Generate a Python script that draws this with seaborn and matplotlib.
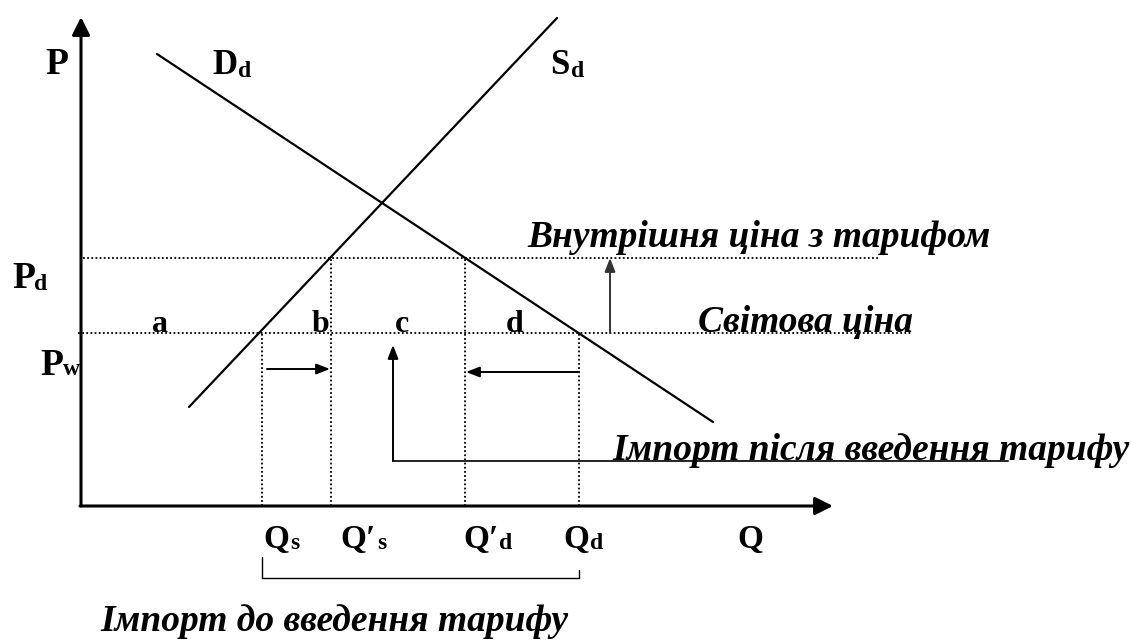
import matplotlib
matplotlib.use("Agg")
import matplotlib.pyplot as plt
import seaborn as sns
import pandas as pd

# ---- data (economic units) ----
P_w = 17.3          # world price
P_d = 24.8          # domestic price with tariff
Q_s = 18.1          # domestic supply at world price
Q_s_t = 25.0        # domestic supply with tariff
Q_d_t = 38.4        # domestic demand with tariff
Q_d = 49.8          # domestic demand at world price
demand_q = [7.6, 63.2]
demand_p = [45.2, 8.4]
supply_q = [10.8, 47.6]
supply_p = [9.9, 48.8]
axis_q_max = 75.2
axis_p_max = 48.9
pd_line_end = 79.7
pw_line_end = 83.0
area_labels = ["a", "b", "c", "d"]
area_label_q = [7.9, 23.9, 32.1, 43.4]
q_main = ["Q", "Q\u2032", "Q\u2032", "Q", "Q"]
q_sub = ["s", "s", "d", "d", ""]

sns.set_theme(style="white")
plt.rcParams["font.family"] = ["Liberation Serif", "DejaVu Serif"]
plt.rcParams["text.color"] = "black"

fig = plt.figure(figsize=(11.31, 6.40), dpi=100)
ax = fig.add_axes([0, 0, 1, 1])
ax.set_xlim(-8.1, 105.0)
ax.set_ylim(-13.4, 50.6)
ax.axis("off")

curves = pd.DataFrame({
    "Q": demand_q + supply_q,
    "P": demand_p + supply_p,
    "curve": ["D", "D", "S", "S"],
})
sns.lineplot(data=curves, x="Q", y="P", hue="curve", units="curve",
             estimator=None, sort=False, palette=["black", "black"],
             linewidth=1.6, legend=False, ax=ax)

# axes with arrows
axis_style = dict(arrowstyle="-|>,head_length=0.9,head_width=0.45",
                  lw=2.2, color="black", mutation_scale=12,
                  shrinkA=0, shrinkB=0)
ax.annotate("", xy=(0, axis_p_max), xytext=(0, 0), arrowprops=axis_style)
ax.annotate("", xy=(axis_q_max, 0), xytext=(-0.1, 0), arrowprops=axis_style)

# dotted guide lines
dot = dict(color="black", lw=1.3, linestyle=(0, (1, 1.3)))
ax.plot([0.2, pd_line_end], [P_d, P_d], **dot)
ax.plot([-0.3, pw_line_end], [P_w, P_w], **dot)
for q, p in [(Q_s, P_w), (Q_s_t, P_d), (Q_d_t, P_d), (Q_d, P_w)]:
    ax.plot([q, q], [0, p], **dot)

# small arrows
arr = dict(arrowstyle="-|>,head_length=0.9,head_width=0.35", lw=1.4,
           color="black", mutation_scale=9, shrinkA=0, shrinkB=0)
ax.annotate("", xy=(Q_s_t - 0.1, 13.7), xytext=(Q_s + 0.5, 13.7), arrowprops=arr)
ax.annotate("", xy=(Q_d_t + 0.1, 13.4), xytext=(Q_d, 13.4), arrowprops=arr)
ax.annotate("", xy=(52.9, P_d), xytext=(52.9, P_w),
            arrowprops=dict(arr, color="#333333"))
ax.annotate("", xy=(31.2, 16.1), xytext=(31.2, 4.5), arrowprops=arr)
ax.plot([31.2, 92.7], [4.5, 4.5], color="#222222", lw=1.4)

# bracket for imports before tariff
ax.plot([Q_s, Q_s, Q_d, Q_d], [-5.1, -7.2, -7.2, -6.4], color="black", lw=1.0)

# labels
big = dict(fontweight="bold", fontsize=27, color="black")
mid = dict(fontweight="bold", fontsize=25, color="black")
qf = dict(fontweight="bold", fontsize=24, color="black")
sub = dict(fontweight="bold", fontsize=17, color="black")
ax.text(-3.6, 43.2, "P", ha="left", va="baseline", **big)
ax.text(13.1, 43.2, "D", ha="left", va="baseline", **mid)
ax.text(15.7, 42.9, "d", ha="left", va="baseline", **sub)
ax.text(46.9, 43.2, "S", ha="left", va="baseline", **mid)
ax.text(49.0, 42.9, "d", ha="left", va="baseline", **sub)
ax.text(-6.9, 21.8, "P", ha="left", va="baseline", **big)
ax.text(-4.7, 21.6, "d", ha="left", va="baseline", **sub)
ax.text(-4.1, 13.1, "P", ha="left", va="baseline", **big)
ax.text(-1.8, 13.1, "w", ha="left", va="baseline", **sub)

for lab, q in zip(area_labels, area_label_q):
    ax.text(q, 17.45, lab, ha="center", va="baseline",
            fontweight="bold", fontsize=23, color="black")

q_main_x = [18.2, 25.9, 38.2, 48.2, 65.6]
q_sub_x = [20.9, 29.6, 41.8, 50.9, 0]
for m, s, mx, sx in zip(q_main, q_sub, q_main_x, q_sub_x):
    ax.text(mx, -4.2, m, ha="left", va="baseline", **qf)
    if s:
        ax.text(sx, -4.3, s, ha="left", va="baseline", **sub)

it = dict(fontweight="bold", fontstyle="italic", fontsize=27, color="black")
ax.text(44.6, 25.9, "Внутрішня ціна з тарифом", ha="left", va="baseline", **it)
ax.text(61.7, 17.4, "Світова ціна", ha="left", va="baseline", **it)
ax.text(53.1, 4.6, "Імпорт після введення тарифу", ha="left", va="baseline", **it)
ax.text(1.9, -12.5, "Імпорт до введення тарифу", ha="left", va="baseline", **it)

fig.savefig("out.png", dpi=100, facecolor="white")
